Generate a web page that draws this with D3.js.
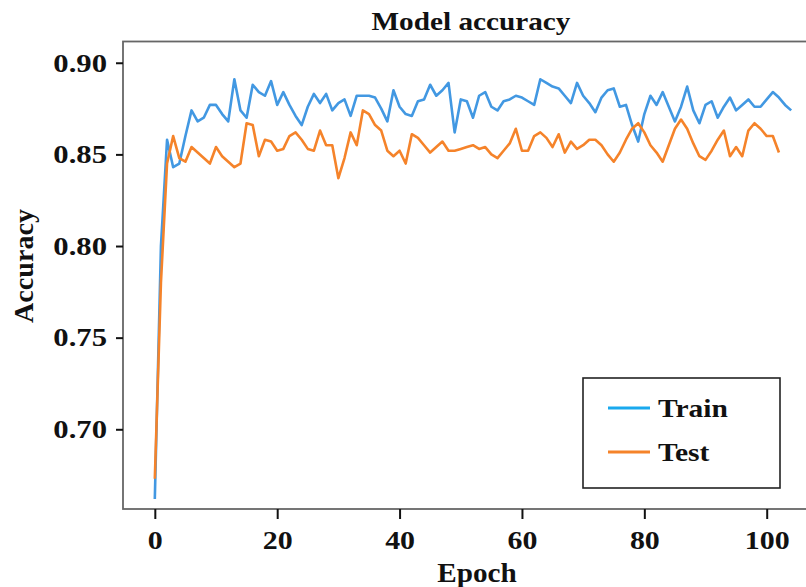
<!DOCTYPE html>
<html>
<head>
<meta charset="utf-8">
<script src="https://cdn.jsdelivr.net/npm/d3@7"></script>
<style>
  body { margin: 0; background: #fff; }
  svg text { font-family: "Liberation Serif", "DejaVu Serif", serif; font-weight: bold; fill: #111; }
</style>
</head>
<body>
<svg id="chart" width="806" height="587"></svg>
<script>
// data
var trainAcc = [0.662, 0.800, 0.858, 0.843, 0.845, 0.860, 0.874, 0.868, 0.870, 0.877,
  0.877, 0.872, 0.868, 0.891, 0.874, 0.870, 0.888, 0.884, 0.882, 0.890,
  0.877, 0.884, 0.877, 0.871, 0.866, 0.876, 0.883, 0.878, 0.883, 0.874,
  0.878, 0.880, 0.871, 0.882, 0.882, 0.882, 0.881, 0.875, 0.868, 0.885,
  0.876, 0.872, 0.871, 0.879, 0.880, 0.888, 0.882, 0.885, 0.889, 0.862,
  0.880, 0.879, 0.870, 0.882, 0.884, 0.876, 0.874, 0.879, 0.880, 0.882,
  0.881, 0.879, 0.877, 0.891, 0.889, 0.887, 0.886, 0.882, 0.878, 0.889,
  0.882, 0.878, 0.873, 0.881, 0.885, 0.886, 0.876, 0.877, 0.866, 0.857,
  0.872, 0.882, 0.877, 0.884, 0.876, 0.868, 0.876, 0.887, 0.874, 0.867,
  0.877, 0.879, 0.870, 0.876, 0.881, 0.874, 0.877, 0.880, 0.876, 0.876,
  0.880, 0.884, 0.881, 0.877, 0.874];
var testAcc = [0.673, 0.780, 0.845, 0.860, 0.848, 0.846, 0.854, 0.851, 0.848, 0.845,
  0.854, 0.849, 0.846, 0.843, 0.845, 0.867, 0.866, 0.849, 0.858, 0.857,
  0.852, 0.853, 0.860, 0.862, 0.858, 0.853, 0.852, 0.863, 0.855, 0.855,
  0.837, 0.848, 0.862, 0.855, 0.874, 0.872, 0.866, 0.863, 0.852, 0.849,
  0.852, 0.845, 0.861, 0.859, 0.855, 0.851, 0.854, 0.857, 0.852, 0.852,
  0.853, 0.854, 0.855, 0.853, 0.854, 0.850, 0.848, 0.852, 0.856, 0.864,
  0.852, 0.852, 0.860, 0.862, 0.859, 0.854, 0.861, 0.851, 0.857, 0.853,
  0.855, 0.858, 0.858, 0.855, 0.850, 0.846, 0.851, 0.858, 0.864, 0.867,
  0.862, 0.855, 0.851, 0.846, 0.855, 0.864, 0.869, 0.864, 0.856, 0.849,
  0.847, 0.852, 0.858, 0.863, 0.849, 0.854, 0.849, 0.863, 0.867, 0.864,
  0.860, 0.860, 0.851];
var xTicks = [0, 20, 40, 60, 80, 100];
var yTicks = [0.70, 0.75, 0.80, 0.85, 0.90];
var seriesNames = ["Train", "Test"];

var margin = {top: 41.5, left: 123},
    width = 700,
    height = 467.5;

// the reference text is a bit wider than Liberation Serif, stretch it
function stretch(sel, k) {
  sel.each(function() {
    var len = this.getComputedTextLength();
    d3.select(this).attr("textLength", len * k).attr("lengthAdjust", "spacingAndGlyphs");
  });
}

var svg = d3.select("#chart");
var g = svg.append("g")
    .attr("transform", "translate(" + margin.left + "," + margin.top + ")");

var x = d3.scaleLinear().domain([-5.2, 109.2]).range([0, width]);
var y = d3.scaleLinear().domain([0.6565, 0.9116]).range([height, 0]);

// lines
var line = d3.line()
    .x(function(d, i) { return x(i); })
    .y(function(d) { return y(d); });

g.append("path").datum(trainAcc)
    .attr("d", line).attr("fill", "none")
    .attr("stroke", "#4298e2").attr("stroke-width", 2.6)
    .attr("stroke-linejoin", "round");
g.append("path").datum(testAcc)
    .attr("d", line).attr("fill", "none")
    .attr("stroke", "#f5832a").attr("stroke-width", 2.6)
    .attr("stroke-linejoin", "round");

// frame
g.append("rect")
    .attr("width", width).attr("height", height)
    .attr("fill", "none").attr("stroke", "#666").attr("stroke-width", 1.8);

// axes
var xAxis = g.append("g")
    .attr("transform", "translate(0," + height + ")")
    .call(d3.axisBottom(x).tickValues(xTicks).tickSize(10).tickPadding(12).tickFormat(d3.format("d")));
var yAxis = g.append("g")
    .call(d3.axisLeft(y).tickValues(yTicks).tickSize(7).tickPadding(9).tickFormat(d3.format(".2f")));

[xAxis, yAxis].forEach(function(a) {
  a.select(".domain").remove();
  a.selectAll(".tick line").attr("stroke", "#111").attr("stroke-width", 2);
  a.selectAll(".tick text").attr("font-size", 26).attr("fill", "#111")
    .attr("font-family", "Liberation Serif, serif").attr("font-weight", "bold");
});
stretch(xAxis.selectAll(".tick text"), 1.15);
stretch(yAxis.selectAll(".tick text"), 1.18);

// title and axis labels
svg.append("text").attr("x", 471).attr("y", 30)
    .attr("text-anchor", "middle").attr("font-size", 25).text("Model accuracy")
    .call(stretch, 1.17);
svg.append("text").attr("x", 477).attr("y", 582)
    .attr("text-anchor", "middle").attr("font-size", 27).text("Epoch")
    .call(stretch, 1.08);
svg.append("text")
    .attr("transform", "translate(33,266) rotate(-90)")
    .attr("text-anchor", "middle").attr("font-size", 27).text("Accuracy")
    .call(stretch, 1.04);

// legend
var legend = svg.append("g").attr("transform", "translate(583,378)");
legend.append("rect").attr("width", 197).attr("height", 110)
    .attr("fill", "#fff").attr("stroke", "#222").attr("stroke-width", 1.6);
var legColors = ["#1aa9ee", "#f5832a"];
seriesNames.forEach(function(name, i) {
  var yy = 30 + i * 44;
  legend.append("line").attr("x1", 25).attr("x2", 67).attr("y1", yy).attr("y2", yy)
      .attr("stroke", legColors[i]).attr("stroke-width", 3);
  legend.append("text").attr("x", 75).attr("y", yy + 9)
      .attr("font-size", 25).text(name)
      .call(stretch, 1.18);
});
</script>
</body>
</html>
